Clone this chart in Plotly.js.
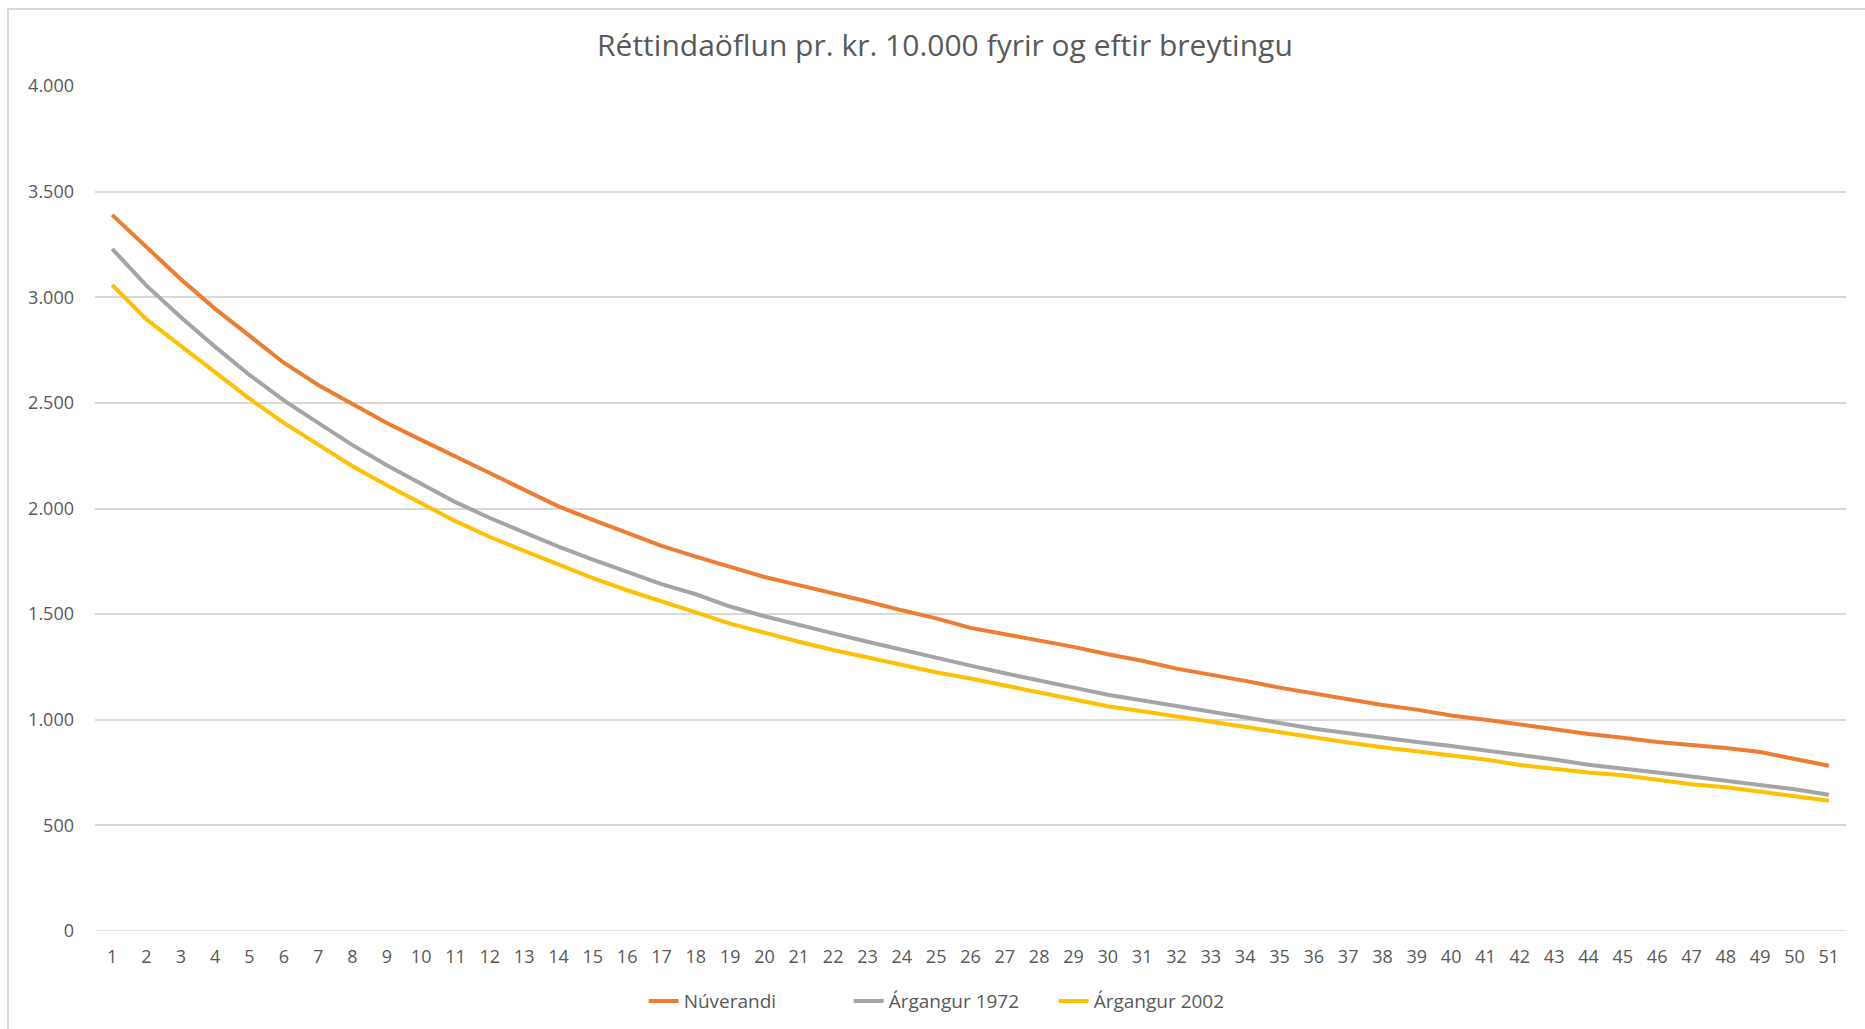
<!DOCTYPE html>
<html>
<head>
<meta charset="utf-8">
<script src="https://cdn.plot.ly/plotly-3.0.1.min.js"></script>
<style>
  html, body { margin: 0; padding: 0; background: #ffffff; }
  #chart { width: 1865px; height: 1029px; }
  #frame { position: absolute; left: 7px; top: 8px; width: 1900px; height: 1100px;
           border-left: 2px solid #d9d9d9; border-top: 2px solid #d9d9d9; pointer-events: none; }
</style>
</head>
<body>
<div id="chart"></div>
<div id="frame"></div>
<script>
const categories = Array.from({length: 51}, (_, i) => String(i + 1));

const seriesNames = ["Núverandi", "Árgangur 1972", "Árgangur 2002"];

const nuverandi = [3390, 3235, 3085, 2945, 2815, 2690, 2585, 2495, 2405, 2325,
  2245, 2170, 2085, 2010, 1946, 1886, 1823, 1772, 1725, 1676,
  1637, 1600, 1560, 1518, 1480, 1435, 1405, 1378, 1345, 1310,
  1279, 1242, 1214, 1184, 1152, 1124, 1100, 1070, 1048, 1020,
  1000, 978, 953, 933, 915, 895, 880, 866, 847, 815, 782];

const argangur1972 = [3229, 3055, 2905, 2765, 2632, 2512, 2405, 2300, 2205, 2115,
  2030, 1955, 1885, 1820, 1758, 1700, 1642, 1594, 1536, 1490,
  1448, 1409, 1369, 1330, 1292, 1256, 1220, 1184, 1152, 1118,
  1092, 1066, 1040, 1013, 985, 957, 935, 915, 895, 876,
  855, 831, 812, 787, 770, 750, 731, 711, 692, 671, 645];

const argangur2002 = [3058, 2895, 2770, 2645, 2520, 2405, 2300, 2200, 2110, 2025,
  1940, 1865, 1800, 1738, 1670, 1613, 1563, 1508, 1455, 1410,
  1369, 1330, 1294, 1260, 1225, 1195, 1163, 1129, 1100, 1064,
  1040, 1015, 991, 967, 942, 919, 892, 870, 850, 831,
  812, 786, 768, 750, 737, 717, 695, 680, 660, 640, 617];

const yTickVals = [0, 500, 1000, 1500, 2000, 2500, 3000, 3500, 4000];
const colors = ["#ED7D31", "#A5A5A5", "#FFC000"];
const values = [nuverandi, argangur1972, argangur2002];

const traces = values.map((v, i) => ({
  type: "scatter",
  mode: "lines",
  x: categories,
  y: v,
  name: seriesNames[i],
  line: {color: colors[i], width: 4},
  hoverinfo: "x+y+name"
}));

const font = "Open Sans, Lato, sans-serif";

const layout = {
  width: 1865,
  height: 1029,
  margin: {l: 95, r: 19, t: 86, b: 98, autoexpand: false},
  paper_bgcolor: "#ffffff",
  plot_bgcolor: "#ffffff",
  separators: ",.",
  font: {family: font, color: "#595959", size: 19},
  title: {
    text: "Réttindaöflun pr. kr. 10.000 fyrir og eftir breytingu",
    font: {family: font, size: 30, color: "#595959"},
    x: 0.4854, xref: "paper", xanchor: "center",
    y: 0.956, yref: "container", yanchor: "middle"
  },
  xaxis: {
    type: "category",
    range: [-0.5, 50.5],
    showgrid: false,
    zeroline: false,
    showline: false,
    ticks: "",
    ticklabelstandoff: 13,
    tickfont: {family: font, size: 18, color: "#595959"},
    fixedrange: true
  },
  yaxis: {
    range: [0, 4000],
    tickvals: yTickVals,
    tickformat: ",d",
    showgrid: true,
    gridcolor: "#d9d9d9",
    gridwidth: 1.5,
    zeroline: false,
    showline: false,
    ticks: "",
    ticklabelstandoff: 20,
    tickfont: {family: font, size: 18, color: "#595959"},
    fixedrange: true
  },
  showlegend: true,
  legend: {
    orientation: "h",
    x: 0.51, xref: "container", xanchor: "center",
    y: 0.027, yref: "container", yanchor: "middle",
    font: {family: font, size: 19, color: "#595959"},
    itemwidth: 30,
    entrywidth: 160,
    entrywidthmode: "pixels",
    traceorder: "normal"
  },
  shapes: [{
    type: "line", xref: "paper", yref: "y",
    x0: 0, x1: 1, y0: 0, y1: 0,
    line: {color: "#d9d9d9", width: 1.5},
    layer: "below"
  }]
};

Plotly.newPlot("chart", traces, layout, {displayModeBar: false, staticPlot: false});
</script>
</body>
</html>
